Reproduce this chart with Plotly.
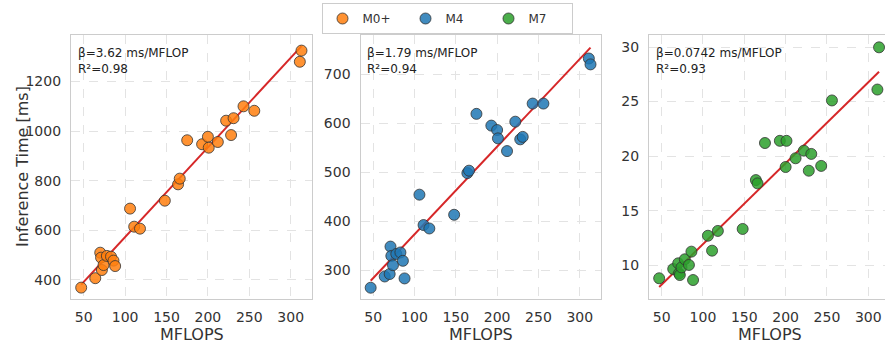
import plotly.graph_objects as go

# ---- data ----
mflops = [47, 64, 70, 71, 72, 74, 78, 83, 86, 88, 106, 111, 118, 148, 164, 166,
          175, 193, 200, 201, 212, 222, 228, 231, 243, 256, 311, 313]

time_m0 = [368, 406, 509, 489, 439, 459, 496, 493, 477, 455, 687, 614, 606, 719, 785, 808,
           963, 947, 977, 933, 956, 1042, 984, 1052, 1100, 1082, 1280, 1325]
time_m4 = [264, 287, 292, 348, 329, 310, 333, 336, 319, 283, 454, 392, 385, 413, 498, 503,
           619, 595, 586, 569, 543, 603, 567, 572, 640, 640, 732, 720]
time_m7 = [8.8, 9.65, 10.17, 9.26, 9.1, 9.8, 10.54, 10.02, 11.24, 8.64, 12.7, 11.33, 13.14, 13.32, 17.8, 17.5,
           21.2, 21.4, 19.0, 21.4, 19.8, 20.5, 18.66, 20.2, 19.1, 25.1, 26.1, 29.97]

series_names = ["M0+", "M4", "M7"]
betas = [3.62, 1.79, 0.0742]
intercepts = [210, 194, 4.51]
r2_values = ["0.98", "0.94", "0.93"]
beta_labels = ["3.62", "1.79", "0.0742"]

x_ticks = [50, 100, 150, 200, 250, 300]
y_ticks = [[400, 600, 800, 1000, 1200], [300, 400, 500, 600, 700], [10, 15, 20, 25, 30]]
y_ranges = [[322, 1388], [241, 780], [6.9, 31.1]]
x_ranges = [[34.7, 325.7], [34.7, 325.7], [34.7, 320.2]]

# ---- style ----
W, H = 885, 344
FONT = "DejaVu Sans"
colors = ["rgba(255,127,14,0.85)", "rgba(31,119,180,0.85)", "rgba(44,160,44,0.85)"]
x_domains = [[71 / W, 312 / W], [360.5 / W, 601 / W], [649 / W, 1.0]]
y_domain = [(H - 299) / H, (H - 35) / H]

fig = go.Figure()
all_y = [time_m0, time_m4, time_m7]

for i in range(3):
    xa = "x" if i == 0 else f"x{i+1}"
    ya = "y" if i == 0 else f"y{i+1}"
    x0, x1 = min(mflops), max(mflops)
    fig.add_trace(go.Scatter(
        x=[x0, x1],
        y=[intercepts[i] + betas[i] * x0, intercepts[i] + betas[i] * x1],
        mode="lines", line=dict(color="#d62728", width=2),
        showlegend=False, xaxis=xa, yaxis=ya, hoverinfo="skip"))
    fig.add_trace(go.Scatter(
        x=mflops, y=all_y[i], mode="markers", name=series_names[i],
        marker=dict(size=11, color=colors[i], line=dict(color="#333333", width=0.8)),
        xaxis=xa, yaxis=ya))

    fig.add_annotation(
        xref=f"{xa} domain", yref=f"{ya} domain", x=0.02, y=0.965,
        xanchor="left", yanchor="top", align="left", showarrow=False,
        text=f"β={beta_labels[i]} ms/MFLOP<br>R²={r2_values[i]}",
        font=dict(family=FONT, size=12, color="#222222"))
    fig.add_annotation(
        xref="paper", yref="paper",
        x=(x_domains[i][0] * W + 120.5) / W, y=(H - 334) / H,
        xanchor="center", yanchor="middle", showarrow=False,
        text="MFLOPS", font=dict(family=FONT, size=16, color="#333333"))

fig.add_annotation(
    xref="paper", yref="paper", x=22 / W, y=(H - 167) / H,
    xanchor="center", yanchor="middle", showarrow=False, textangle=-90,
    text="Inference Time [ms]", font=dict(family=FONT, size=16, color="#333333"))

layout = dict(
    width=W, height=H,
    margin=dict(l=0, r=0, t=0, b=0),
    paper_bgcolor="white", plot_bgcolor="white",
    font=dict(family=FONT, color="#333333"),
    showlegend=True,
    legend=dict(
        orientation="h", x=447 / W, xanchor="center", y=(H - 3) / H, yanchor="top",
        bgcolor="white", bordercolor="#cccccc", borderwidth=1,
        font=dict(family=FONT, size=12, color="#333333"),
        entrywidth=38, entrywidthmode="pixels"),
)
for i in range(3):
    xk = "xaxis" if i == 0 else f"xaxis{i+1}"
    yk = "yaxis" if i == 0 else f"yaxis{i+1}"
    layout[xk] = dict(
        domain=x_domains[i], range=x_ranges[i], anchor="y" if i == 0 else f"y{i+1}",
        tickvals=x_ticks, showgrid=True, gridcolor="#e3e3e3", griddash="dash", gridwidth=0.8,
        zeroline=False, showline=True, mirror=True, linecolor="#cccccc", linewidth=1.2,
        ticks="outside", ticklen=5, tickcolor="rgba(0,0,0,0)",
        tickfont=dict(family=FONT, size=14, color="#333333"), automargin=False)
    layout[yk] = dict(
        domain=y_domain, range=y_ranges[i], anchor="x" if i == 0 else f"x{i+1}",
        tickvals=y_ticks[i], showgrid=True, gridcolor="#e3e3e3", griddash="dash", gridwidth=0.8,
        zeroline=False, showline=True, mirror=(i < 2), linecolor="#cccccc", linewidth=1.2,
        ticks="outside", ticklen=6, tickcolor="rgba(0,0,0,0)",
        tickfont=dict(family=FONT, size=14, color="#333333"), automargin=False)

fig.update_layout(**layout)
fig.write_html("out.html", config={"displayModeBar": False},
               post_script="document.body.style.margin='0px';document.body.style.overflow='hidden';")
